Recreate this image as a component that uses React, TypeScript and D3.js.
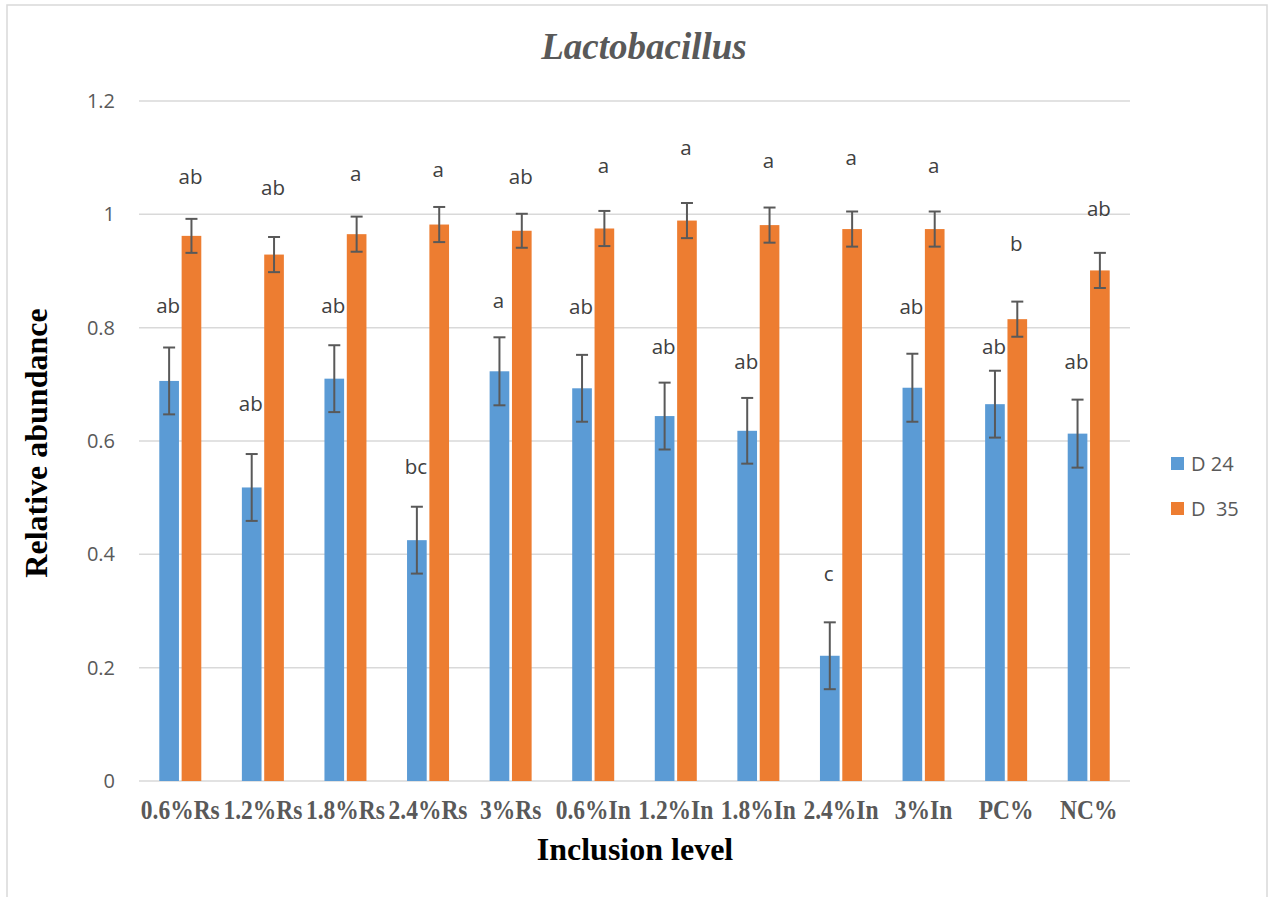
import React from "react";
import * as d3 from "d3";

const categories = ["0.6%Rs", "1.2%Rs", "1.8%Rs", "2.4%Rs", "3%Rs", "0.6%In", "1.2%In", "1.8%In", "2.4%In", "3%In", "PC%", "NC%"];
const seriesNames = ["D 24", "D  35"];
const seriesColors = ["#5b9bd5", "#ed7d31"];

const d24 = [0.706, 0.518, 0.71, 0.425, 0.723, 0.693, 0.644, 0.618, 0.221, 0.694, 0.665, 0.613];
const d24Err = [0.059, 0.059, 0.059, 0.059, 0.06, 0.059, 0.059, 0.058, 0.059, 0.06, 0.059, 0.06];
const d35 = [0.962, 0.929, 0.965, 0.982, 0.971, 0.975, 0.989, 0.981, 0.974, 0.974, 0.815, 0.901];
const d35Err = [0.03, 0.031, 0.031, 0.031, 0.03, 0.031, 0.031, 0.031, 0.031, 0.031, 0.031, 0.031];

// significance letters and where they sit (in data units, baseline)
const d24Letters = ["ab", "ab", "ab", "bc", "a", "ab", "ab", "ab", "c", "ab", "ab", "ab"];
const d35Letters = ["ab", "ab", "a", "a", "ab", "a", "a", "a", "a", "a", "b", "ab"];
const d24LetterAt = [0.826, 0.653, 0.826, 0.542, 0.835, 0.824, 0.754, 0.727, 0.353, 0.824, 0.754, 0.727];
const d35LetterAt = [1.053, 1.034, 1.059, 1.066, 1.053, 1.073, 1.105, 1.082, 1.087, 1.073, 0.935, 0.997];

const yTicks = [0, 0.2, 0.4, 0.6, 0.8, 1, 1.2];

const W = 1274;
const H = 897;
const plot = { left: 139, right: 1130, top: 101, bottom: 781 };

export default function App() {
  const x0 = d3.scaleBand<string>().domain(categories).range([plot.left, plot.right]);
  const x1 = d3.scaleBand<number>().domain([0, 1]).range([-21, 21]).paddingInner(0.12);
  const y = d3.scaleLinear().domain([0, 1.2]).range([plot.bottom, plot.top]);

  const series = [
    { vals: d24, err: d24Err, letters: d24Letters, at: d24LetterAt },
    { vals: d35, err: d35Err, letters: d35Letters, at: d35LetterAt },
  ];

  const sans = "'Open Sans', 'DejaVu Sans', sans-serif";
  const serif = "'Liberation Serif', 'Times New Roman', serif";

  return (
    <svg width={W} height={H} style={{ position: "absolute", left: 0, top: 0, background: "#fff" }}>
      <rect x={7} y={5} width={1260} height={H + 10} fill="#fff" stroke="#d9d9d9" strokeWidth={1.5} />

      <text x={644} y={59} textAnchor="middle" fontFamily={serif} fontWeight="bold" fontStyle="italic" fontSize={37} fill="#595959">
        Lactobacillus
      </text>

      {yTicks.map((t) => (
        <g key={t}>
          <line x1={plot.left} x2={plot.right} y1={y(t)} y2={y(t)} stroke="#d9d9d9" strokeWidth={1.5} />
          <text x={115} y={y(t)} dy="0.35em" textAnchor="end" fontFamily={sans} fontSize={20} fill="#595959">
            {String(+t.toFixed(1))}
          </text>
        </g>
      ))}

      {categories.map((c, i) => {
        const cx = x0(c)! + x0.bandwidth() / 2;
        return (
          <g key={c}>
            {series.map((s, k) => {
              const bx = cx + x1(k)!;
              const bw = x1.bandwidth();
              const mid = bx + bw / 2;
              const v = s.vals[i];
              const e = s.err[i];
              return (
                <g key={k}>
                  <rect x={bx} y={y(v)} width={bw} height={y(0) - y(v)} fill={seriesColors[k]} />
                  <g stroke="#595959" strokeWidth={2}>
                    <line x1={mid} x2={mid} y1={y(v + e)} y2={y(v - e)} />
                    <line x1={mid - 6} x2={mid + 6} y1={y(v + e)} y2={y(v + e)} />
                    <line x1={mid - 6} x2={mid + 6} y1={y(v - e)} y2={y(v - e)} />
                  </g>
                  <text x={mid - 1} y={y(s.at[i])} textAnchor="middle" fontFamily={sans} fontSize={20.5} fill="#404040">
                    {s.letters[i]}
                  </text>
                </g>
              );
            })}
            <text
              transform={`translate(${cx},819) scale(0.87,1)`}
              textAnchor="middle"
              fontFamily={serif}
              fontWeight="bold"
              fontSize={27}
              fill="#595959"
            >
              {c}
            </text>
          </g>
        );
      })}

      <text x={635} y={860} textAnchor="middle" fontFamily={serif} fontWeight="bold" fontSize={32} fill="#000">
        Inclusion level
      </text>
      <text
        transform={`translate(47,443) rotate(-90)`}
        textAnchor="middle"
        fontFamily={serif}
        fontWeight="bold"
        fontSize={32}
        fill="#000"
      >
        Relative abundance
      </text>

      {seriesNames.map((n, k) => (
        <g key={n} transform={`translate(1171,${464 + k * 45})`}>
          <rect x={0} y={-7} width={13} height={13} fill={seriesColors[k]} />
          <text x={20} y={0} dy="0.35em" fontFamily={sans} fontSize={20} fill="#595959" style={{ whiteSpace: "pre" }}>
            {n}
          </text>
        </g>
      ))}
    </svg>
  );
}
